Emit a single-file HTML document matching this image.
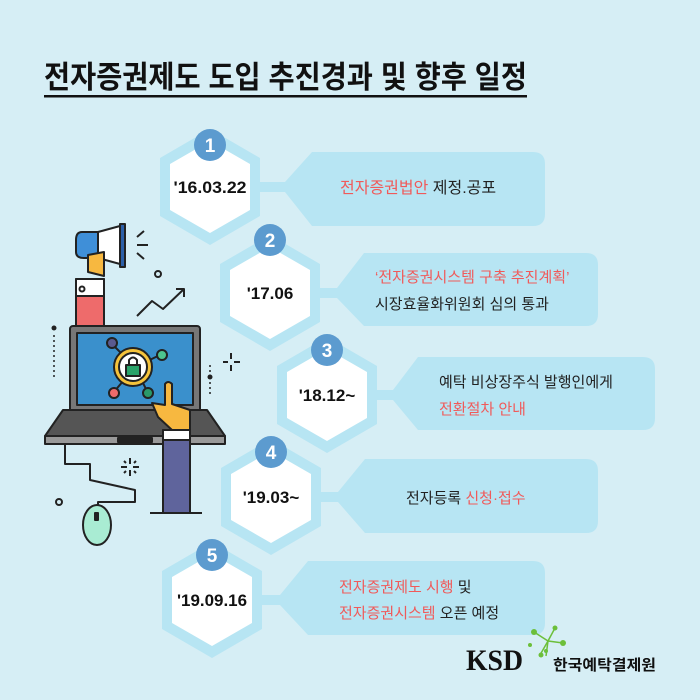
<!DOCTYPE html>
<html><head><meta charset="utf-8"><style>
html,body{margin:0;padding:0;background:#d6eef5;}
svg{display:block;}
text{font-family:"Liberation Sans","Noto Sans CJK KR",sans-serif;}
text.serif{font-family:"Liberation Serif",serif;}
</style></head><body>
<svg width="700" height="700" viewBox="0 0 700 700" xmlns="http://www.w3.org/2000/svg">
<rect width="700" height="700" fill="#d6eef5"/>
<text x="44" y="88" font-size="31" font-weight="bold" fill="#111" textLength="483" lengthAdjust="spacingAndGlyphs">전자증권제도 도입 추진경과 및 향후 일정</text>
<rect x="44" y="95" width="483" height="2.5" fill="#111"/>

<g id="items">
<!-- item 1 -->
<path d="M255,182 L285,182 L312,152 L533,152 Q545,152 545,164 L545,214 Q545,226 533,226 L312,226 L285,192 L255,192 Z" fill="#b7e5f3"/>
<polygon points="210,129 260,158 260,216 210,245 160,216 160,158" fill="#b7e5f3"/>
<polygon points="210,141 250,164 250,210 210,233 170,210 170,164" fill="#fff"/>
<circle cx="210" cy="145" r="16" fill="#5c9bcf"/>
<text x="210" y="152" font-size="19" font-weight="bold" fill="#fff" text-anchor="middle">1</text>
<text x="210" y="193" font-size="17" font-weight="bold" fill="#111" text-anchor="middle" textLength="73" lengthAdjust="spacingAndGlyphs">'16.03.22</text>
<text x="340" y="193" font-size="16" fill="#f05a5a">전자증권법안 <tspan fill="#222">제정.공포</tspan></text>

<!-- item 2 -->
<path d="M315,288 L337,288 L364,253 L586,253 Q598,253 598,265 L598,314 Q598,326 586,326 L364,326 L337,298 L315,298 Z" fill="#b7e5f3"/>
<polygon points="270,235 320,264 320,322 270,351 220,322 220,264" fill="#b7e5f3"/>
<polygon points="270,247 310,270 310,316 270,339 230,316 230,270" fill="#fff"/>
<circle cx="270" cy="240" r="16" fill="#5c9bcf"/>
<text x="270" y="247" font-size="19" font-weight="bold" fill="#fff" text-anchor="middle">2</text>
<text x="270" y="299" font-size="17" font-weight="bold" fill="#111" text-anchor="middle">'17.06</text>
<text x="375" y="282" font-size="15" fill="#f05a5a">‘전자증권시스템 구축 추진계획’</text>
<text x="375" y="309" font-size="15" fill="#222">시장효율화위원회 심의 통과</text>

<!-- item 3 -->
<path d="M372,390 L393,390 L418,357 L643,357 Q655,357 655,369 L655,418 Q655,430 643,430 L418,430 L393,400 L372,400 Z" fill="#b7e5f3"/>
<polygon points="327,337 377,366 377,424 327,453 277,424 277,366" fill="#b7e5f3"/>
<polygon points="327,349 367,372 367,418 327,441 287,418 287,372" fill="#fff"/>
<circle cx="327" cy="350" r="16" fill="#5c9bcf"/>
<text x="327" y="357" font-size="19" font-weight="bold" fill="#fff" text-anchor="middle">3</text>
<text x="327" y="401" font-size="17" font-weight="bold" fill="#111" text-anchor="middle">'18.12~</text>
<text x="439" y="387" font-size="15" fill="#222">예탁 비상장주식 발행인에게</text>
<text x="439" y="414" font-size="15" fill="#f05a5a">전환절차 안내</text>

<!-- item 4 -->
<path d="M316,492 L338,492 L365,459 L586,459 Q598,459 598,471 L598,521 Q598,533 586,533 L365,533 L338,502 L316,502 Z" fill="#b7e5f3"/>
<polygon points="271,439 321,468 321,526 271,555 221,526 221,468" fill="#b7e5f3"/>
<polygon points="271,451 311,474 311,520 271,543 231,520 231,474" fill="#fff"/>
<circle cx="271" cy="452" r="16" fill="#5c9bcf"/>
<text x="271" y="459" font-size="19" font-weight="bold" fill="#fff" text-anchor="middle">4</text>
<text x="271" y="503" font-size="17" font-weight="bold" fill="#111" text-anchor="middle">'19.03~</text>
<text x="406" y="503" font-size="15" fill="#222">전자등록 <tspan fill="#f05a5a">신청·접수</tspan></text>

<!-- item 5 -->
<path d="M257,595 L280,595 L308,561 L533,561 Q545,561 545,573 L545,623 Q545,635 533,635 L308,635 L280,605 L257,605 Z" fill="#b7e5f3"/>
<polygon points="212,542 262,571 262,629 212,658 162,629 162,571" fill="#b7e5f3"/>
<polygon points="212,554 252,577 252,623 212,646 172,623 172,577" fill="#fff"/>
<circle cx="212" cy="555" r="16" fill="#5c9bcf"/>
<text x="212" y="562" font-size="19" font-weight="bold" fill="#fff" text-anchor="middle">5</text>
<text x="212" y="606" font-size="17" font-weight="bold" fill="#111" text-anchor="middle" textLength="70" lengthAdjust="spacingAndGlyphs">'19.09.16</text>
<text x="339" y="592" font-size="15" fill="#f05a5a">전자증권제도 시행 <tspan fill="#222">및</tspan></text>
<text x="339" y="618" font-size="15" fill="#f05a5a">전자증권시스템 <tspan fill="#222">오픈 예정</tspan></text>
</g>

<!-- illustration -->
<g stroke="#222" stroke-width="2" stroke-linejoin="round">
<path d="M82,232 Q76,232 76,240 L76,252 Q76,258 84,258 L98,258 L98,232 Z" fill="#3f8fd8"/>
<path d="M98,232 L120,226 L120,264 L98,258 Z" fill="#fff"/>
<rect x="120" y="224" width="5" height="43" fill="#2c5fa8"/>
<path d="M88,255 L88,272 L104,276 L104,252 Z" fill="#f7b840"/>
<rect x="76" y="279" width="28" height="48" fill="#ee6b6b"/>
<rect x="76" y="279" width="28" height="17" fill="#fff"/>
<circle cx="82" cy="289" r="2.5" fill="none"/>
<rect x="70" y="326" width="130" height="86" rx="3" fill="#777"/>
<rect x="77" y="333" width="116" height="72" fill="#3a90cc"/>
<path d="M63,410 L207,410 L225,436 L45,436 Z" fill="#555"/>
<rect x="45" y="436" width="180" height="8" fill="#999"/>
<rect x="118" y="438" width="34" height="4" fill="#222"/>
<line x1="112" y1="344" x2="135" y2="367"/><line x1="160" y1="355" x2="135" y2="367"/>
<line x1="113" y1="393" x2="135" y2="367"/><line x1="148" y1="393" x2="135" y2="367"/>
<circle cx="112" cy="343" r="5" fill="#5a5a8f"/>
<circle cx="162" cy="355" r="5" fill="#4cc48f"/>
<circle cx="114" cy="393" r="5" fill="#ee6b6b"/>
<circle cx="148" cy="393" r="5" fill="#2a9a6a"/>
<circle cx="133" cy="367" r="19" fill="#f5c33b"/>
<circle cx="133" cy="367" r="14" fill="#fff"/>
<rect x="126" y="365" width="14" height="11" fill="#2aa36a"/>
<path d="M129,365 L129,360 Q133,355 137,360 L137,365" fill="none"/>
<path d="M165,384 L165,405 L152,403 L158,417 L172,430 L190,430 L190,410 L172,404 L172,384 Q168,380 165,384 Z" fill="#f7b840"/>
<rect x="163" y="430" width="27" height="83" fill="#5f649c"/>
<rect x="163" y="430" width="27" height="10" fill="#fff"/>
<line x1="150" y1="513" x2="202" y2="513"/>
<path d="M65,445 L65,464 L90,464 L90,480 L135,490 L135,502 L98,502 L98,505" fill="none"/>
<ellipse cx="97" cy="525" rx="14" ry="20" fill="#a9ecd3"/>
<rect x="95" y="513" width="3" height="7" fill="#222"/>
<path d="M137,316 L152,301 L163,309 L184,289" fill="none"/>
<path d="M176,289 L184,289 L184,297" fill="none"/>
<circle cx="158" cy="274" r="3" fill="none"/>
<circle cx="59" cy="502" r="3" fill="none"/>
<path d="M137,237 L144,231 M137,245 L148,245 M137,253 L144,259" fill="none"/>
<path d="M231,353 L231,359 M231,365 L231,371 M223,362 L228,362 M234,362 L240,362" fill="none"/>
<path d="M130,458 L130,464 M130,470 L130,476 M121,467 L127,467 M133,467 L139,467 M124,461 L126,463 M136,473 L134,471 M136,461 L134,463 M124,473 L126,471" fill="none"/>
</g>
<g fill="#222">
<circle cx="54" cy="328" r="2.5"/><circle cx="54" cy="336" r="1"/><circle cx="54" cy="341" r="1"/><circle cx="54" cy="346" r="1"/><circle cx="54" cy="351" r="1"/><circle cx="54" cy="356" r="1"/><circle cx="54" cy="361" r="1"/><circle cx="54" cy="366" r="1"/><circle cx="54" cy="371" r="1"/><circle cx="54" cy="376" r="1"/>
<circle cx="210" cy="366" r="1"/><circle cx="210" cy="371" r="1"/><circle cx="210" cy="377" r="2.5"/><circle cx="210" cy="383" r="1"/><circle cx="210" cy="388" r="1"/><circle cx="210" cy="393" r="1"/>
</g>

<!-- logo -->
<g stroke="#6cbf3a" stroke-width="1.5">
<line x1="548" y1="641" x2="534" y2="632"/><line x1="548" y1="641" x2="540" y2="655"/><line x1="548" y1="641" x2="555" y2="628"/><line x1="548" y1="641" x2="563" y2="643"/><line x1="548" y1="641" x2="546" y2="656"/>
</g>
<g fill="#6cbf3a">
<circle cx="534" cy="632" r="3"/><circle cx="541" cy="655" r="2.5"/><circle cx="555" cy="628" r="2.5"/><circle cx="563" cy="643" r="3"/><circle cx="546" cy="651" r="2"/><circle cx="530" cy="645" r="2"/>
</g>
<text class="serif" x="466" y="670" font-size="30" font-weight="bold" fill="#111" textLength="57" lengthAdjust="spacingAndGlyphs">KSD</text>
<text x="553" y="670" font-size="15" font-weight="bold" fill="#111" textLength="103" lengthAdjust="spacingAndGlyphs">한국예탁결제원</text>
</svg>
</body></html>
